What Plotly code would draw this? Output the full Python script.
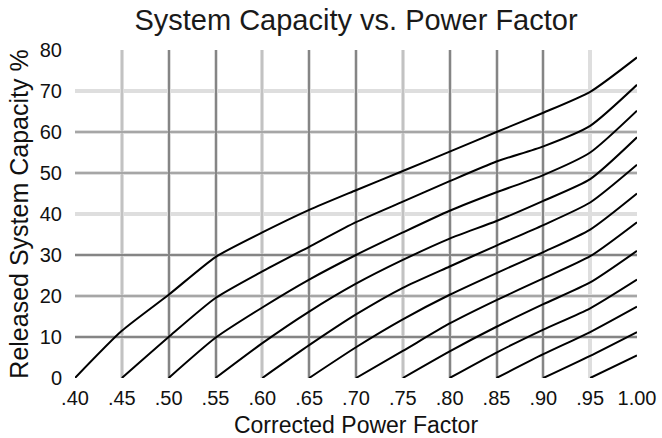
import plotly.graph_objects as go

# ---- data -------------------------------------------------------------
pf_ticks = [0.40, 0.45, 0.50, 0.55, 0.60, 0.65, 0.70, 0.75, 0.80, 0.85, 0.90, 0.95, 1.00]
pf_labels = [".40", ".45", ".50", ".55", ".60", ".65", ".70", ".75", ".80", ".85", ".90", ".95", "1.00"]
cap_ticks = [0, 10, 20, 30, 40, 50, 60, 70, 80]
cap_labels = ["0", "10", "20", "30", "40", "50", "60", "70", "80"]

# released capacity (%) for each original power factor, read at every .05 of corrected PF
cap_from_040 = [0, 11.5, 20.3, 29.5, 35.5, 41.0, 45.8, 50.5, 55.2, 60.0, 64.7, 69.8, 78.2]
cap_from_045 = [0, 10.0, 19.5, 26.0, 32.0, 38.0, 43.0, 48.0, 52.8, 56.5, 61.5, 71.5]
cap_from_050 = [0, 9.8, 17.2, 24.0, 30.0, 35.5, 40.8, 45.3, 49.5, 55.0, 65.2]
cap_from_055 = [0, 8.5, 16.2, 23.0, 28.8, 34.0, 38.3, 43.2, 48.5, 58.7]
cap_from_060 = [0, 8.0, 15.5, 22.0, 27.2, 32.3, 37.3, 42.8, 52.0]
cap_from_065 = [0, 7.5, 14.3, 20.3, 25.6, 30.7, 36.2, 45.0]
cap_from_070 = [0, 6.6, 13.3, 19.0, 24.3, 29.7, 38.0]
cap_from_075 = [0, 6.5, 12.5, 18.0, 23.3, 31.0]
cap_from_080 = [0, 6.2, 11.8, 17.0, 24.0]
cap_from_085 = [0, 5.8, 11.2, 17.4]
cap_from_090 = [0, 5.4, 11.2]
cap_from_095 = [0, 5.5]

curves = [cap_from_040, cap_from_045, cap_from_050, cap_from_055, cap_from_060, cap_from_065,
          cap_from_070, cap_from_075, cap_from_080, cap_from_085, cap_from_090, cap_from_095]

# gridline shade groups
x_dark = [0.40, 0.50, 0.55, 0.65, 0.70, 0.80, 0.85, 0.90]
x_light = [0.45, 0.60, 0.75, 1.00]
y_dark = [0, 10, 30, 80]
y_mid = [20, 50, 60]

FONT = "Liberation Sans, Arial, sans-serif"
XR = [0.40, 1.00]
YR = [0, 80]

fig = go.Figure()

# empty traces so that every overlay subplot is drawn
for i in (1, 2):
    sfx = "" if i == 1 else str(i)
    fig.add_trace(go.Scatter(x=[], y=[], xaxis="x" + sfx, yaxis="y" + sfx,
                             showlegend=False, hoverinfo="skip"))

for k, vals in enumerate(curves):
    fig.add_trace(go.Scatter(
        x=pf_ticks[k:k + len(vals)], y=vals, mode="lines",
        line=dict(color="#000000", width=2, shape="spline", smoothing=0.6),
        xaxis="x3", yaxis="y3", showlegend=False,
        name="PF " + pf_labels[k]))

common = dict(zeroline=False, showline=False, automargin=False, fixedrange=True)

fig.update_layout(
    width=662, height=438,
    margin=dict(l=75, r=25, t=50, b=60),
    paper_bgcolor="white", plot_bgcolor="white",
    font=dict(family=FONT, color="#111111"),
    title=dict(text="System Capacity vs. Power Factor", x=0.5, xref="paper", xanchor="center",
               y=1 - 20 / 438, yref="container", yanchor="middle",
               font=dict(size=29, family=FONT, color="#1a1a1a")),
    xaxis=dict(range=XR, tickmode="array", tickvals=pf_ticks, ticktext=pf_labels,
               showgrid=True, gridcolor="#dedede", gridwidth=4,
               ticks="outside", ticklen=2, tickcolor="rgba(0,0,0,0)",
               tickfont=dict(size=20, family=FONT, color="#111111"),
               title=dict(text="Corrected Power Factor", standoff=11,
                          font=dict(size=23, family=FONT, color="#111111")),
               **common),
    yaxis=dict(range=YR, tickmode="array", tickvals=cap_ticks, ticktext=cap_labels,
               showgrid=True, gridcolor="#dedede", gridwidth=4,
               ticks="outside", ticklen=8, tickcolor="rgba(0,0,0,0)",
               tickfont=dict(size=20, family=FONT, color="#111111"),
               title=dict(text="Released System Capacity %", standoff=4,
                          font=dict(size=25, family=FONT, color="#111111")),
               **common),
    xaxis2=dict(range=XR, overlaying="x", tickmode="array", tickvals=x_light,
                showgrid=True, gridcolor="#c2c2c2", gridwidth=2,
                showticklabels=False, ticks="", **common),
    yaxis2=dict(range=YR, overlaying="y", tickmode="array", tickvals=y_mid,
                showgrid=True, gridcolor="#a6a6a6", gridwidth=2,
                showticklabels=False, ticks="", **common),
    xaxis3=dict(range=XR, overlaying="x", tickmode="array", tickvals=x_dark,
                showgrid=True, gridcolor="#858585", gridwidth=2,
                showticklabels=False, ticks="", **common),
    yaxis3=dict(range=YR, overlaying="y", tickmode="array", tickvals=y_dark,
                showgrid=True, gridcolor="#858585", gridwidth=2,
                showticklabels=False, ticks="", **common),
)

fig.write_html("out.html", config={"displayModeBar": False},
               post_script="document.body.style.margin='0px';")
